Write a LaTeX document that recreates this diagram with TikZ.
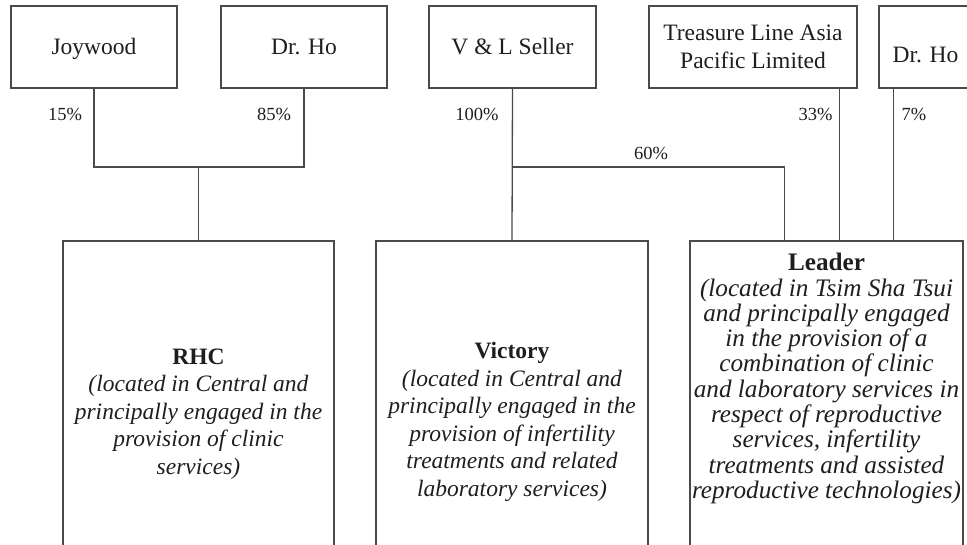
\documentclass[tikz,border=0pt]{standalone}
\usepackage{fontspec}
\setmainfont{Liberation Serif}
\definecolor{linec}{HTML}{4A4A4A}
\definecolor{txt}{HTML}{1E1E1E}
\tikzset{
  conn/.style={draw=linec, line width=1.3pt},
  topbox/.style={draw=linec, line width=1.3pt, minimum width=#1, minimum height=82pt, inner sep=0pt, align=center, text=txt, font=\fontsize{23.5}{28}\selectfont},
  oneline/.style={text height=#1, text depth=0pt},
  lowbox/.style={draw=linec, line width=1.3pt, minimum width=#1, minimum height=330pt, inner sep=0pt},
  pct/.style={inner sep=0pt, text=txt, font=\fontsize{18.5}{20}\selectfont},
  desc/.style={inner sep=0pt, align=center, text=txt, font=\fontsize{23.5}{27.5}\selectfont},
  descL/.style={inner sep=0pt, align=center, text=txt, font=\fontsize{25.2}{25.3}\selectfont}
}
\begin{document}
\begin{tikzpicture}[x=1pt,y=-1pt]
\useasboundingbox (0,0) rectangle (967,545);
\clip (0,0) rectangle (967,545);
% top boxes
\node[topbox=166pt, oneline=16pt] (joy) at (94,47) {Joywood};
\node[topbox=166pt, oneline=16pt] (dr1) at (304,47) {Dr. Ho};
\node[topbox=167pt, oneline=16pt] (vl) at (512.5,47) {V \& L Seller};
\node[topbox=208pt] (tr) at (753,47) {Treasure Line Asia\\Pacific Limited};
\node[topbox=93pt, oneline=31pt] (dr2) at (925.5,47) {Dr. Ho};
% lower boxes (open at the bottom)
\node[lowbox=271pt] (rhc) at (198.5,406) {};
\node[lowbox=272pt] (vic) at (512,406) {};
\node[lowbox=273pt] (ldr) at (826.5,406) {};
% texts
\node[desc] (rhct) at (198.5,414) {\textbf{RHC}\\\textit{(located in Central and}\\\textit{principally engaged in the}\\\textit{provision of clinic}\\\textit{services)}};
\node[desc] (vict) at (512,422) {\textbf{Victory}\\\textit{(located in Central and}\\\textit{principally engaged in the}\\\textit{provision of infertility}\\\textit{treatments and related}\\\textit{laboratory services)}};
\node[descL] (ldrt) at (826.5,378.5) {\textbf{Leader}\\\textit{(located in Tsim Sha Tsui}\\\textit{and principally engaged}\\\textit{in the provision of a}\\\textit{combination of clinic}\\\textit{and laboratory services in}\\\textit{respect of reproductive}\\\textit{services, infertility}\\\textit{treatments and assisted}\\\textit{reproductive technologies)}};
% junction coordinates
\coordinate (rj) at (198.5,167);
\coordinate (vj) at (512.5,167);
\path (ldr.north west) ++(95,0) coordinate (ldrA);
\path (ldr.north west) ++(150,0) coordinate (ldrB);
\path (ldr.north west) ++(204,0) coordinate (ldrC);
% connectors
\draw[conn] (joy.south) -- (joy.south |- rj) -- (dr1.south |- rj) -- (dr1.south);
\draw[conn] (rj) -- (rhc.north);
\draw[conn] (vl.south) -- (vic.north);
\draw[conn] (vj) -| (ldrA);
\draw[conn] (tr.south -| ldrB) -- (ldrB);
\draw[conn] (dr2.south -| ldrC) -- (ldrC);
% percentages
\node[pct] (p15) at (65,114) {15\%};
\node[pct] (p85) at (274,114) {85\%};
\node[pct] (p100) at (477,114) {100\%};
\node[pct] (p60) at (651,153) {60\%};
\node[pct] (p33) at (815.5,114) {33\%};
\node[pct] (p7) at (914,114) {7\%};
\end{tikzpicture}
\end{document}
